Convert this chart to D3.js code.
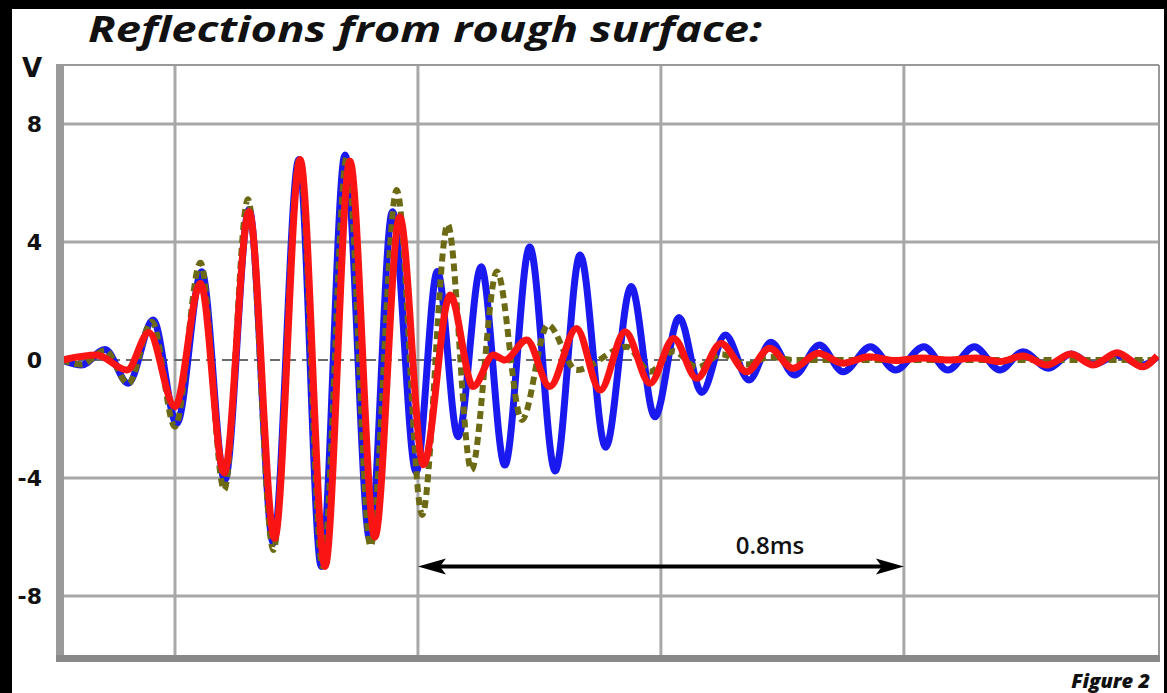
<!DOCTYPE html>
<html>
<head>
<meta charset="utf-8">
<script src="https://cdn.jsdelivr.net/npm/d3@7"></script>
<style>
  body { margin: 0; background: #000; }
  svg { display: block; }
</style>
</head>
<body>
<svg id="chart" width="1167" height="693"></svg>
<script>
// time in ms, voltage in V; extrema
var redWave = [
  [0.214, 0], [0.271, 0.17], [0.321, -0.34], [0.357, 0.93], [0.400, -1.58],
  [0.442, 2.6], [0.481, -3.83], [0.522, 5.03], [0.564, -6.05], [0.606, 6.8],
  [0.647, -7.0], [0.688, 6.75], [0.729, -6.0], [0.770, 4.85], [0.809, -3.55],
  [0.853, 2.2], [0.891, -0.9], [0.924, 0.17], [0.943, 0.0], [0.979, 0.68],
  [1.017, -0.9], [1.061, 1.07], [1.100, -1.02], [1.141, 0.96], [1.182, -0.79],
  [1.221, 0.73], [1.259, -0.62], [1.299, 0.56], [1.341, -0.4], [1.379, 0.4],
  [1.417, -0.28], [1.459, 0.23], [1.500, -0.11], [1.542, 0.11], [1.586, -0.02],
  [1.630, 0.07], [1.674, 0.0], [1.719, 0.07], [1.758, -0.05], [1.796, 0.14],
  [1.835, -0.17], [1.875, 0.2], [1.912, -0.17], [1.951, 0.25], [1.993, -0.23],
  [2.017, 0.14]
];

var blueWave = [
  [0.214, 0], [0.246, -0.17], [0.285, 0.36], [0.323, -0.79], [0.364, 1.36],
  [0.403, -2.15], [0.444, 2.99], [0.482, -4.07], [0.522, 5.1], [0.562, -6.2],
  [0.604, 6.8], [0.641, -7.0], [0.680, 6.95], [0.721, -6.1], [0.758, 5.03],
  [0.797, -3.79], [0.832, 3.0], [0.866, -2.6], [0.904, 3.16], [0.943, -3.56],
  [0.984, 3.83], [1.026, -3.76], [1.067, 3.56], [1.109, -2.96], [1.151, 2.49],
  [1.190, -1.92], [1.230, 1.44], [1.267, -1.1], [1.306, 0.85], [1.345, -0.68],
  [1.381, 0.6], [1.420, -0.51], [1.461, 0.51], [1.500, -0.4], [1.545, 0.45],
  [1.586, -0.34], [1.633, 0.45], [1.672, -0.34], [1.716, 0.45], [1.758, -0.34],
  [1.796, 0.28], [1.838, -0.28], [1.875, 0.2], [1.912, -0.15], [1.951, 0.15],
  [1.993, -0.17], [2.017, 0.1]
];

var oliveWave = [
  [0.214, 0], [0.246, -0.15], [0.285, 0.33], [0.323, -0.8], [0.362, 1.3],
  [0.400, -2.26], [0.442, 3.3], [0.481, -4.4], [0.520, 5.45], [0.562, -6.44],
  [0.605, 6.8], [0.643, -7.0], [0.683, 6.9], [0.722, -6.3], [0.765, 5.76],
  [0.807, -5.25], [0.849, 4.6], [0.888, -3.73], [0.930, 3.0], [0.971, -2.03],
  [1.014, 1.19], [1.061, -0.34], [1.144, 0.45], [1.182, -0.4], [1.221, 0.3],
  [1.260, -0.25], [1.300, 0.2], [1.340, -0.15], [1.380, 0.1], [1.420, 0],
  [2.017, 0]
];

var gridTimes = [0.4, 0.8, 1.2, 1.6];
var yTicks = [8, 4, 0, -4, -8];
var spanTimes = [0.8, 1.6];
var spanLabel = "0.8ms";

var svg = d3.select("#chart");

// white page inside the black frame
svg.append("rect")
    .attr("x", 12).attr("y", 9)
    .attr("width", 1152).attr("height", 684)
    .attr("fill", "#fff");

var x = d3.scaleLinear().domain([0.214, 2.02]).range([62, 1159]);
var y = d3.scaleLinear().domain([-10.1, 10]).range([658, 65]);

// title
svg.append("text")
    .attr("x", 88).attr("y", 42)
    .attr("textLength", 674)
    .attr("lengthAdjust", "spacingAndGlyphs")
    .style("font-family", "'Open Sans', sans-serif")
    .style("font-weight", 700)
    .style("font-style", "italic")
    .style("font-size", "35px")
    .attr("fill", "#111")
    .text("Reflections from rough surface:");

// grid
svg.selectAll(".vgrid")
    .data(gridTimes)
    .enter()
    .append("line")
    .attr("x1", d => x(d)).attr("x2", d => x(d))
    .attr("y1", y(10)).attr("y2", y(-10.1))
    .attr("stroke", "#a8a8a8")
    .attr("stroke-width", 3);

svg.selectAll(".hgrid")
    .data(yTicks.filter(d => d !== 0))
    .enter()
    .append("line")
    .attr("x1", x(0.214)).attr("x2", x(2.02))
    .attr("y1", d => y(d)).attr("y2", d => y(d))
    .attr("stroke", "#a8a8a8")
    .attr("stroke-width", 3);

// zero line
svg.append("line")
    .attr("x1", x(0.214)).attr("x2", x(2.02))
    .attr("y1", y(0)).attr("y2", y(0))
    .attr("stroke", "#6a6a6a")
    .attr("stroke-width", 2)
    .attr("stroke-dasharray", "10,6");

// frame
svg.append("line")
    .attr("x1", x(0.214)).attr("x2", x(2.02))
    .attr("y1", y(10)).attr("y2", y(10))
    .attr("stroke", "#999").attr("stroke-width", 2);
svg.append("line")
    .attr("x1", x(2.02)).attr("x2", x(2.02))
    .attr("y1", y(10)).attr("y2", y(-10.1))
    .attr("stroke", "#999").attr("stroke-width", 2);
svg.append("rect")
    .attr("x", 56).attr("y", y(10) - 1)
    .attr("width", 8).attr("height", y(-10.1) - y(10) + 2)
    .attr("fill", "#9a9a9a");
svg.append("rect")
    .attr("x", 56).attr("y", y(-10.1) - 3)
    .attr("width", x(2.02) - 55).attr("height", 7)
    .attr("fill", "#888");

// y labels
svg.selectAll(".ylab")
    .data(yTicks)
    .enter()
    .append("text")
    .attr("x", 42)
    .attr("y", d => y(d) + 8)
    .attr("text-anchor", "end")
    .style("font-family", "'DejaVu Sans', sans-serif")
    .style("font-weight", "bold")
    .style("font-size", "22px")
    .attr("fill", "#111")
    .text(d => d);

svg.append("text")
    .attr("x", 32).attr("y", 77)
    .attr("text-anchor", "middle")
    .style("font-family", "'DejaVu Sans', sans-serif")
    .style("font-weight", "bold")
    .style("font-size", "26px")
    .attr("fill", "#111")
    .text("V");

// waves
svg.append("clipPath").attr("id", "plotClip")
    .append("rect")
    .attr("x", 64).attr("y", y(10))
    .attr("width", x(2.02) - 64).attr("height", y(-10.1) - y(10));

var line = d3.line()
    .x(d => x(d[0]))
    .y(d => y(d[1]))
    .curve(d3.curveMonotoneX);

var waves = svg.append("g").attr("clip-path", "url(#plotClip)");

waves.append("path")
    .datum(blueWave)
    .attr("d", line)
    .attr("fill", "none")
    .attr("stroke", "#1a1af0")
    .attr("stroke-width", 7);

waves.append("path")
    .datum(oliveWave)
    .attr("d", line)
    .attr("fill", "none")
    .attr("stroke", "#6c6a14")
    .attr("stroke-width", 6)
    .attr("stroke-dasharray", "8,5");

waves.append("path")
    .datum(redWave)
    .attr("d", line)
    .attr("fill", "none")
    .attr("stroke", "#fa1414")
    .attr("stroke-width", 7);

// 0.8ms span arrow
var arrowY = y(-7.0);
svg.append("line")
    .attr("x1", x(spanTimes[0]) + 10).attr("x2", x(spanTimes[1]) - 10)
    .attr("y1", arrowY).attr("y2", arrowY)
    .attr("stroke", "#000")
    .attr("stroke-width", 4);

svg.selectAll(".head")
    .data(spanTimes)
    .enter()
    .append("path")
    .attr("d", function (d, i) {
        var px = x(d);
        var dir = i === 0 ? 1 : -1;
        return "M" + px + "," + arrowY +
            "L" + (px + dir * 28) + "," + (arrowY - 8) +
            "L" + (px + dir * 22) + "," + arrowY +
            "L" + (px + dir * 28) + "," + (arrowY + 8) + "Z";
    })
    .attr("fill", "#000");

svg.append("text")
    .attr("x", 770).attr("y", 554)
    .attr("text-anchor", "middle")
    .style("font-family", "'Open Sans', sans-serif")
    .style("font-weight", 600)
    .style("font-size", "24px")
    .attr("fill", "#111")
    .text(spanLabel);

svg.append("text")
    .attr("x", 1150).attr("y", 688)
    .attr("text-anchor", "end")
    .style("font-family", "'Open Sans', sans-serif")
    .style("font-weight", 800)
    .style("font-style", "italic")
    .style("font-size", "20px")
    .attr("fill", "#111")
    .text("Figure 2");
</script>
</body>
</html>
